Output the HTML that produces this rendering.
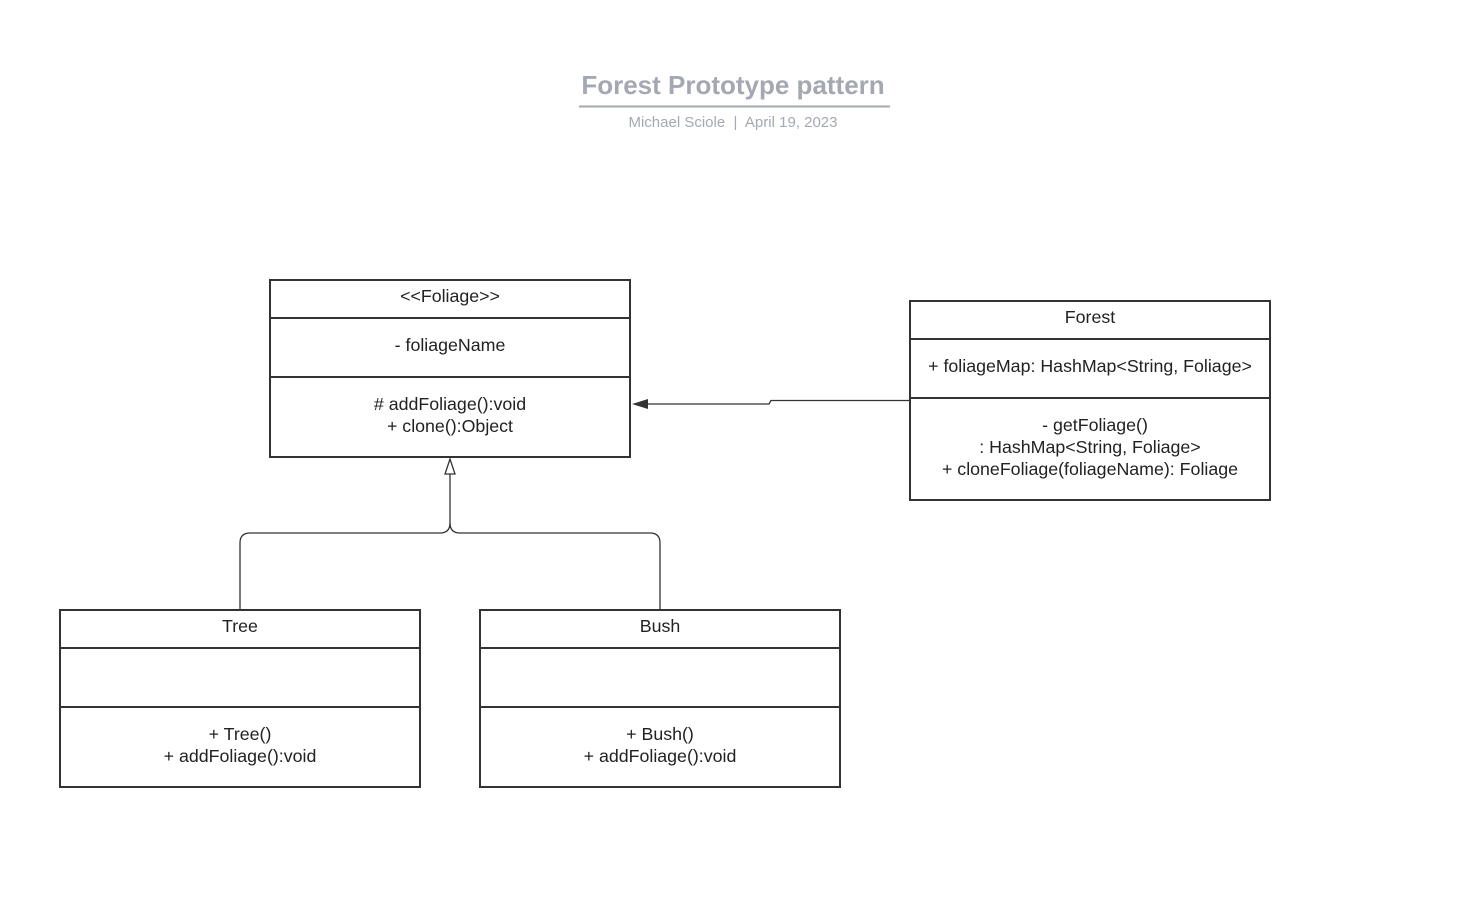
<!DOCTYPE html>
<html><head><meta charset="utf-8"><style>
html,body{margin:0;padding:0;background:#fff;}
svg{display:block;}
text{font-family:"Liberation Sans",Arial,sans-serif;}
</style></head><body>
<svg width="1465" height="905" viewBox="0 0 1465 905" xmlns="http://www.w3.org/2000/svg">
<rect width="1465" height="905" fill="#fff"/>
<text x="733" y="94" text-anchor="middle" font-size="26" font-weight="bold" fill="#a4a8b2">Forest Prototype pattern</text>
<line x1="579" y1="106.5" x2="890" y2="106.5" stroke="#a4a8b2" stroke-width="2"/>
<text x="733" y="127" text-anchor="middle" font-size="15" fill="#a4a8b2" style="white-space:pre">Michael Sciole  |  April 19, 2023</text>

<g fill="none" stroke="#333" stroke-width="2">
<rect x="270" y="280" width="360" height="177"/>
<line x1="270" y1="318" x2="630" y2="318"/>
<line x1="270" y1="377" x2="630" y2="377"/>
<rect x="910" y="301" width="360" height="199"/>
<line x1="910" y1="339" x2="1270" y2="339"/>
<line x1="910" y1="398" x2="1270" y2="398"/>
<rect x="60" y="610" width="360" height="177"/>
<line x1="60" y1="648" x2="420" y2="648"/>
<line x1="60" y1="707" x2="420" y2="707"/>
<rect x="480" y="610" width="360" height="177"/>
<line x1="480" y1="648" x2="840" y2="648"/>
<line x1="480" y1="707" x2="840" y2="707"/>
</g>

<g fill="none" stroke="#333" stroke-width="1.3">
<path d="M910 400.5 H771 L769 404 H648"/>
<path d="M240 610 V543 Q240 533 250 533 H440 Q450 533 450 523 V474"/>
<path d="M660 610 V543 Q660 533 650 533 H460 Q450 533 450 523"/>
</g>
<polygon points="632,404 648,399 648,409" fill="#333"/>
<polygon points="450,459 445,474 455,474" fill="#fff" stroke="#333" stroke-width="1.3"/>

<g font-size="17.8" fill="#222" text-anchor="middle">
<text x="450" y="302">&lt;&lt;Foliage&gt;&gt;</text>
<text x="450" y="351">- foliageName</text>
<text x="450" y="410">#&#160;addFoliage():void</text>
<text x="450" y="432">+ clone():Object</text>

<text x="1090" y="323">Forest</text>
<text x="1090" y="372">+ foliageMap: HashMap&lt;String, Foliage&gt;</text>
<text x="1095" y="431">- getFoliage()</text>
<text x="1090" y="453">: HashMap&lt;String, Foliage&gt;</text>
<text x="1090" y="475">+ cloneFoliage(foliageName): Foliage</text>

<text x="240" y="632">Tree</text>
<text x="240" y="740">+ Tree()</text>
<text x="240" y="762">+ addFoliage():void</text>

<text x="660" y="632">Bush</text>
<text x="660" y="740">+ Bush()</text>
<text x="660" y="762">+ addFoliage():void</text>
</g>
</svg>
</body></html>
